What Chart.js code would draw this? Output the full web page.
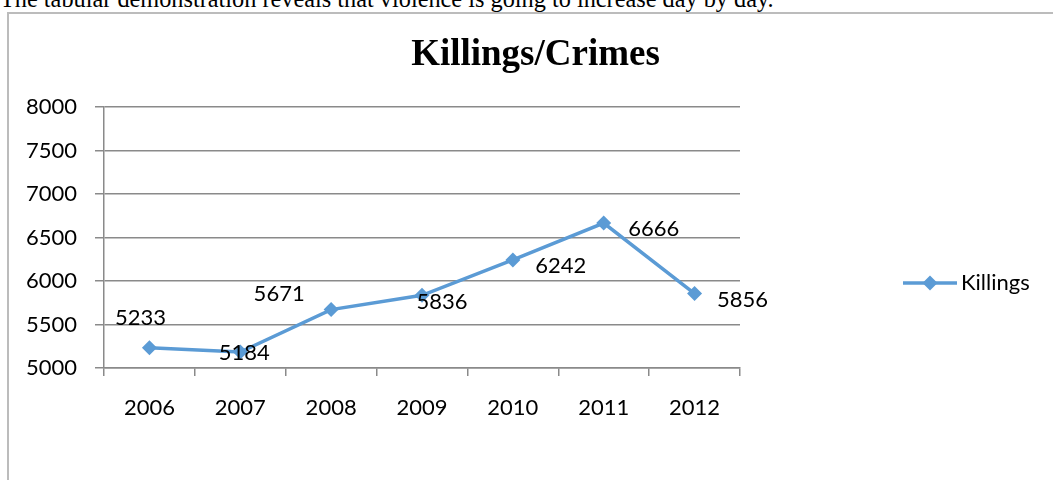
<!DOCTYPE html>
<html>
<head>
<meta charset="utf-8">
<script src="https://cdn.jsdelivr.net/npm/chart.js@4.4.0/dist/chart.umd.min.js"></script>
<style>
  html, body { margin: 0; padding: 0; background: #fff; overflow: hidden; }
  body { width: 1053px; height: 480px; position: relative; }
  .intro {
    position: absolute; left: 0; top: -13px; white-space: nowrap;
    font-family: "Liberation Serif", serif; font-size: 24.3px; line-height: 24px; color: #000;
  }
  .frame {
    position: absolute; left: 7px; top: 12px; width: 1100px; height: 520px;
    border: 2px solid #bcbcbc; box-sizing: border-box;
  }
  #wrap { position: absolute; left: 0; top: 0; width: 1053px; height: 480px; }
</style>
</head>
<body>
<div class="intro">The tabular demonstration reveals that violence is going to increase day by day.</div>
<div class="frame"></div>
<div id="wrap"><canvas id="grafica"></canvas></div>
<script>
// datos de la grafica
const anios = ['2006', '2007', '2008', '2009', '2010', '2011', '2012'];
const asesinatos = [5233, 5184, 5671, 5836, 6242, 6666, 5856];
const tituloGrafica = 'Killings/Crimes';
const nombreSerie = 'Killings';

// donde va cada etiqueta respecto a su punto (dx, dy)
const desplazamientoEtiquetas = [
  [-9, -30], [4, 1], [-52, -16], [20, 7], [48, 6], [50, 6], [48, 6]
];

const azul = '#5b9bd5';
const gris = '#8a8a8a';
const fuente = 'Lato';

// titulo centrado sobre todo el recuadro (no solo sobre el area de trazado)
const tituloCentrado = {
  id: 'tituloCentrado',
  afterDraw(chart) {
    const ctx = chart.ctx;
    ctx.save();
    ctx.font = 'bold 37px "Liberation Serif"';
    ctx.fillStyle = '#000';
    ctx.textAlign = 'center';
    ctx.textBaseline = 'alphabetic';
    ctx.fillText(tituloGrafica, chart.width / 2 + 9, 65);
    ctx.restore();
  }
};

// etiquetas de valores junto a cada punto
const etiquetasValores = {
  id: 'etiquetasValores',
  afterDatasetsDraw(chart) {
    const ctx = chart.ctx;
    const meta = chart.getDatasetMeta(0);
    ctx.save();
    ctx.font = '22px ' + fuente;
    ctx.fillStyle = '#000';
    ctx.textAlign = 'center';
    ctx.textBaseline = 'middle';
    meta.data.forEach((punto, i) => {
      const [dx, dy] = desplazamientoEtiquetas[i];
      ctx.fillText(String(chart.data.datasets[0].data[i]), punto.x + dx, punto.y + dy);
    });
    ctx.restore();
  }
};

// leyenda tipo excel: linea con rombo
const leyendaLinea = {
  id: 'leyendaLinea',
  afterDraw(chart) {
    const ctx = chart.ctx;
    const area = chart.chartArea;
    const x = area.right + 163;
    const y = area.top + 176;
    ctx.save();
    ctx.strokeStyle = azul;
    ctx.lineWidth = 3.5;
    ctx.beginPath();
    ctx.moveTo(x, y);
    ctx.lineTo(x + 54, y);
    ctx.stroke();
    ctx.fillStyle = azul;
    ctx.beginPath();
    ctx.moveTo(x + 27, y - 7.5);
    ctx.lineTo(x + 34.5, y);
    ctx.lineTo(x + 27, y + 7.5);
    ctx.lineTo(x + 19.5, y);
    ctx.closePath();
    ctx.fill();
    ctx.font = '22px ' + fuente;
    ctx.fillStyle = '#000';
    ctx.textAlign = 'left';
    ctx.textBaseline = 'middle';
    ctx.fillText(chart.data.datasets[0].label, x + 58, y);
    ctx.restore();
  }
};

const ctxGrafica = document.getElementById('grafica').getContext('2d');
const grafica = new Chart(ctxGrafica, {
  type: 'line',
  data: {
    labels: anios,
    datasets: [
      {
        label: nombreSerie,
        data: asesinatos,
        borderColor: azul,
        backgroundColor: azul,
        borderWidth: 3.5,
        tension: 0,
        pointStyle: 'rectRot',
        pointRadius: 7.5,
        pointHoverRadius: 7.5,
        pointBorderWidth: 0,
        pointBackgroundColor: azul
      }
    ]
  },
  options: {
    responsive: true,
    maintainAspectRatio: false,
    animation: false,
    devicePixelRatio: 1,
    layout: { padding: { left: 0, right: 313, top: 107, bottom: 0 } },
    plugins: {
      legend: { display: false },
      tooltip: { enabled: false },
      title: { display: false }
    },
    scales: {
      x: {
        offset: true,
        grid: {
          offset: true,
          drawOnChartArea: false,
          drawTicks: true,
          tickLength: 8,
          color: gris,
          lineWidth: 1.5
        },
        border: { display: true, color: gris, width: 1.5 },
        ticks: {
          color: '#000',
          font: { family: fuente, size: 22 },
          padding: 19,
          maxRotation: 0
        },
        afterFit(scale) { scale.height = 112; }
      },
      y: {
        min: 5000,
        max: 8000,
        grid: {
          drawTicks: true,
          tickLength: 9,
          color: gris,
          lineWidth: 1.5
        },
        border: { display: true, color: gris, width: 1.5 },
        ticks: {
          stepSize: 500,
          color: '#000',
          font: { family: fuente, size: 22 },
          padding: 18,
          callback: (valor) => String(valor)
        },
        afterFit(scale) { scale.width = 104; }
      }
    }
  },
  plugins: [tituloCentrado, etiquetasValores, leyendaLinea]
});
</script>
</body>
</html>
